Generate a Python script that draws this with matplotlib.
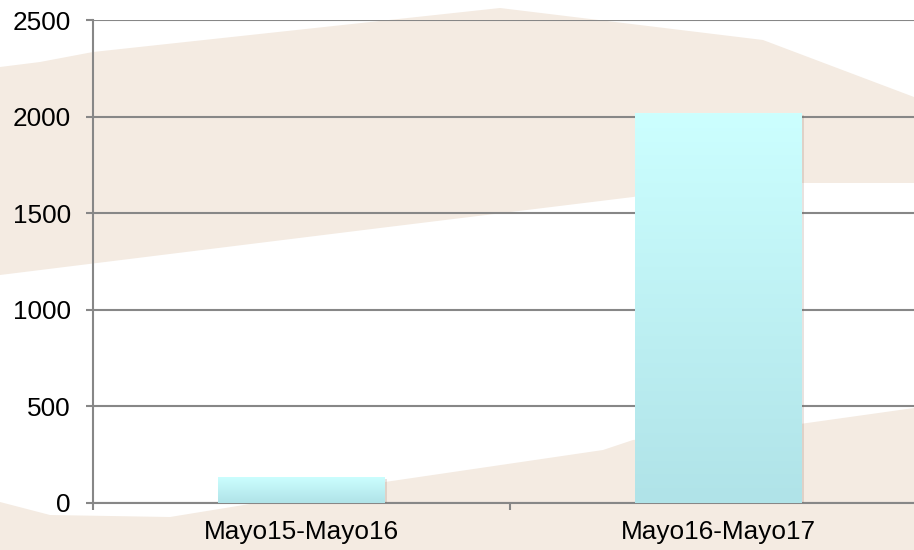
import numpy as np
import matplotlib
matplotlib.use("Agg")
import matplotlib.pyplot as plt
from matplotlib.colors import LinearSegmentedColormap
from matplotlib.patches import Polygon
import matplotlib.patheffects as pe

periods = ["Mayo15-Mayo16", "Mayo16-Mayo17"]
values = [136, 2018]
yticks = [0, 500, 1000, 1500, 2000, 2500]

plt.rcParams['font.family'] = ['Liberation Sans', 'DejaVu Sans']

fig = plt.figure(figsize=(9.14, 5.5), dpi=100)

# decorative beige shapes behind the chart (figure pixel coords)
bg = fig.add_axes([0, 0, 1, 1], zorder=-1)
bg.set_xlim(0, 914)
bg.set_ylim(550, 0)
bg.axis("off")
beige = "#F4EBE2"
upper = [(0, 67), (40, 62), (93, 52), (500, 8), (763, 40), (914, 97),
         (914, 183), (720, 183), (633, 197), (380, 228), (0, 275)]
lower = [(0, 502), (50, 515), (170, 517), (385, 482), (603, 450), (633, 440),
         (800, 424), (914, 408), (914, 550), (0, 550)]
bg.add_patch(Polygon(upper, closed=True, color=beige, lw=0))
bg.add_patch(Polygon(lower, closed=True, color=beige, lw=0))

ax = fig.add_axes([93 / 914, 47 / 550, 834 / 914, 483 / 550])
ax.patch.set_alpha(0)

x = np.arange(len(periods))
bars = ax.bar(x, values, width=0.4, color="#BDEFF2", zorder=3,
              path_effects=[pe.SimplePatchShadow(offset=(1.5, -1.5), alpha=0.18,
                                                 shadow_rgbFace="#806050"),
                            pe.Normal()])

# vertical gradient inside each bar
cmap = LinearSegmentedColormap.from_list("bar", ["#B0E3E8", "#CCFFFF"])
grad = np.linspace(0, 1, 256).reshape(-1, 1)
for b in bars:
    x0, w, h = b.get_x(), b.get_width(), b.get_height()
    im = ax.imshow(grad, cmap=cmap, origin="lower", aspect="auto",
                   extent=[x0, x0 + w, 0, h], zorder=4)
    im.set_clip_path(b)

ax.set_xlim(-0.5, 1.5)
ax.set_ylim(0, 2500)
ax.set_yticks(yticks)
ax.set_yticklabels([str(t) for t in yticks])
ax.set_xticks(x)
ax.set_xticklabels(periods)
ax.set_xticks([-0.5, 0.5, 1.5], minor=True)

grid_c = "#878787"
ax.grid(axis="y", color=grid_c, lw=1.5, zorder=1)
ax.set_axisbelow(True)
for s in ["top", "right"]:
    ax.spines[s].set_visible(False)
for s in ["left", "bottom"]:
    ax.spines[s].set_color(grid_c)
    ax.spines[s].set_linewidth(1.5)

ax.tick_params(axis="y", length=5, width=1.5, color=grid_c, pad=11,
               labelsize=18.8, labelcolor="black")
ax.tick_params(axis="x", which="major", length=0, pad=12,
               labelsize=18.8, labelcolor="black")
ax.tick_params(axis="x", which="minor", length=5, width=1.5, color=grid_c)

fig.savefig("out.png", dpi=100)
